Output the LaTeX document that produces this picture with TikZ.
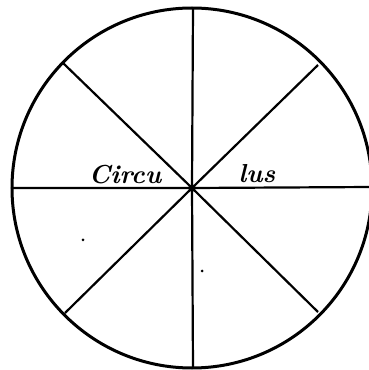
\documentclass[tikz,border=0pt]{standalone}
\usepackage{amsfonts,amsmath,amssymb}
\usepackage{xcolor}
\usetikzlibrary{positioning}

\begin{document}
\begin{tikzpicture}[x=0.5pt,y=0.5pt,
  rim/.style={line width=1.5pt,black},
  spoke/.style={line width=1.1pt,black},
  word/.style={font=\fontsize{13}{15}\selectfont\bfseries\itshape,inner sep=0pt}]
\useasboundingbox (0,0) rectangle (369,370);
\coordinate (O) at (192,182);
\draw[rim] (O) circle (180);
% ends of the spokes on the rim
\coordinate (E) at (372,183);
\coordinate (W) at (12,182);
\coordinate (N) at (193,362);
\coordinate (S) at (193,2);
\coordinate (NE) at (318,305);
\coordinate (NW) at (63,307);
\coordinate (SE) at (318,58);
\coordinate (SW) at (65,57);
\draw[spoke] (W)--(O)--(E) (N)--(O)--(S) (NW)--(O)--(SE) (NE)--(O)--(SW);
\node[word] (left) at (125,195) {Circu};
\node[word] (right) at (257,196) {lus};
\fill (83,130) circle (1.5);
\fill (202,99) circle (1.5);
\end{tikzpicture}
\end{document}
